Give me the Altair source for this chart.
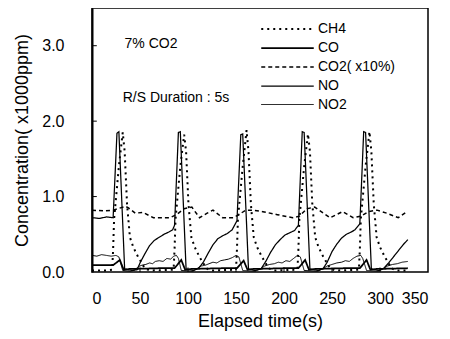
import altair as alt
import pandas as pd

FONT = "Liberation Sans"

series_names = ["CH4", "CO", "CO2( x10%)", "NO", "NO2"]

# CH4 (dotted)
ch4_t = [0, 15, 21, 22, 23, 28, 32, 34, 36.5, 39.5, 43, 48, 55, 60,
         85, 86, 87, 92, 96, 98, 100.5, 103.5, 107, 112, 119, 124,
         150, 151, 152, 157, 161, 163, 165.5, 168.5, 172, 177, 184, 189,
         214, 215, 216, 221, 225, 227, 229.5, 232.5, 236, 241, 248, 253,
         278, 279, 280, 285, 289, 291, 293.5, 296.5, 300, 305, 312, 317, 329]
ch4_v = [0.02, 0.02, 0.03, 0.3, 0.7, 1.4, 1.85, 1.6, 0.9, 0.46, 0.33, 0.2, 0.05, 0.02,
         0.03, 0.3, 0.7, 1.4, 1.82, 1.6, 0.9, 0.46, 0.33, 0.2, 0.05, 0.02,
         0.03, 0.3, 0.7, 1.4, 1.88, 1.6, 0.9, 0.46, 0.33, 0.2, 0.05, 0.02,
         0.03, 0.3, 0.7, 1.4, 1.83, 1.6, 0.9, 0.46, 0.33, 0.2, 0.05, 0.02,
         0.03, 0.3, 0.7, 1.4, 1.86, 1.6, 0.9, 0.46, 0.33, 0.2, 0.05, 0.02, 0.02]

# CO (thin solid)
co_t = [0, 20, 22, 29, 33, 39, 70, 86, 93, 97, 103, 135, 151, 158, 162, 168, 200,
        215, 222, 226, 232, 262, 279, 286, 290, 296, 329]
co_v = [0.09, 0.09, 0.09, 0.16, 0.03, 0.04, 0.05, 0.05, 0.16, 0.03, 0.04, 0.05, 0.05, 0.15, 0.03, 0.04, 0.05,
        0.05, 0.16, 0.03, 0.04, 0.05, 0.05, 0.16, 0.03, 0.04, 0.05]

# CO2 x10% (dashed)
co2_t = [0, 12, 22, 27, 35, 38, 45, 53, 64, 81, 88, 96, 104, 112, 120, 126, 136, 147,
         153, 160, 167, 178, 193, 209, 216, 224, 232, 241, 248, 261, 272, 280, 288, 297,
         307, 319, 328]
co2_v = [0.82, 0.81, 0.82, 0.84, 0.87, 0.85, 0.78, 0.79, 0.72, 0.72, 0.76, 0.84, 0.86, 0.72, 0.78, 0.82, 0.72, 0.72,
         0.76, 0.82, 0.82, 0.80, 0.76, 0.72, 0.74, 0.84, 0.86, 0.78, 0.72, 0.80, 0.72, 0.74, 0.80, 0.82,
         0.78, 0.72, 0.80]

# NO (spiking solid)
no_t = [0, 8, 15, 22, 26, 28, 34, 42, 47, 50, 55, 60, 65, 70, 75, 80, 84, 86,
        90, 92, 98, 106, 111, 116, 121, 126, 131, 136, 141, 146, 151,
        155, 157, 163, 170, 176, 181, 186, 191, 196, 201, 206, 211, 215,
        219, 221, 227, 236, 241, 245, 250, 255, 260, 265, 270, 274, 279,
        283, 285, 291, 299, 304, 309, 314, 319, 324, 329]
no_v = [0.72, 0.71, 0.73, 0.72, 1.84, 1.86, 0.04, 0.02, 0.03, 0.12, 0.24, 0.35, 0.42, 0.46, 0.50, 0.53, 0.56, 0.62,
        1.85, 1.86, 0.04, 0.02, 0.05, 0.13, 0.25, 0.36, 0.44, 0.48, 0.51, 0.56, 0.68,
        1.82, 1.83, 0.04, 0.02, 0.04, 0.14, 0.26, 0.36, 0.43, 0.49, 0.52, 0.55, 0.62,
        1.86, 1.85, 0.04, 0.02, 0.05, 0.13, 0.27, 0.37, 0.45, 0.50, 0.53, 0.56, 0.64,
        1.86, 1.85, 0.04, 0.02, 0.05, 0.12, 0.20, 0.28, 0.36, 0.43]

# NO2 (thick jagged solid)
no2_t = [0, 5, 10, 15, 20, 25, 28, 32, 40, 45, 48, 52, 56, 60, 63, 66, 70, 74, 78, 82, 85, 88, 90,
         93, 105, 110, 114, 118, 122, 126, 130, 134, 138, 142, 146, 150, 153,
         157, 170, 175, 180, 185, 190, 194, 198, 202, 206, 210, 214, 217,
         221, 235, 240, 245, 250, 255, 260, 264, 268, 272, 276, 280, 282,
         286, 298, 303, 308, 313, 318, 323, 329]
no2_v = [0.22, 0.21, 0.23, 0.22, 0.21, 0.22, 0.20, 0.02, 0.01, 0.03, 0.07, 0.09, 0.10, 0.12, 0.11, 0.14, 0.15, 0.14, 0.18, 0.17, 0.21, 0.22, 0.18,
         0.02, 0.01, 0.05, 0.08, 0.09, 0.11, 0.13, 0.12, 0.15, 0.16, 0.17, 0.19, 0.22, 0.20,
         0.02, 0.01, 0.04, 0.08, 0.10, 0.11, 0.13, 0.12, 0.15, 0.14, 0.18, 0.22, 0.20,
         0.02, 0.01, 0.04, 0.08, 0.10, 0.12, 0.13, 0.15, 0.14, 0.18, 0.21, 0.22, 0.18,
         0.02, 0.01, 0.04, 0.08, 0.10, 0.11, 0.13, 0.14]

x_ticks = [0, 50, 100, 150, 200, 250, 300, 350]
y_ticks = [0, 1, 2, 3]

ann_text = ["7% CO2", "R/S Duration : 5s"]
ann_x = [61.5, 87.5]
ann_y = [3.02, 2.31]

rows = []
for name, ts, vs in zip(series_names,
                        [ch4_t, co_t, co2_t, no_t, no2_t],
                        [ch4_v, co_v, co2_v, no_v, no2_v]):
    for i, (t, v) in enumerate(zip(ts, vs)):
        rows.append({"series": name, "t": t, "v": v, "order": i})
df = pd.DataFrame(rows)

dash_range = [[2, 4], [1, 0], [4, 3], [1, 0], [1, 0]]
width_range = [2, 1, 1, 2.2, 2.2]

leg = alt.Legend(title=None, orient="none", legendX=184, legendY=9.5,
                 symbolType="M-2.5,0L2.5,0", symbolSize=441, symbolStrokeColor="black",
                 symbolStrokeWidth=1.6,
                 labelFont=FONT, labelFontSize=14, labelColor="black",
                 rowPadding=-1, labelOffset=19, padding=0)

xscale = alt.Scale(domain=[0, 350], nice=False)
yscale = alt.Scale(domain=[0, 3.5], nice=False)

lines = alt.Chart(df).mark_line(interpolate="linear").encode(
    x=alt.X("t:Q", scale=xscale,
            axis=alt.Axis(values=x_ticks, title="Elapsed time(s)", format="d")),
    y=alt.Y("v:Q", scale=yscale,
            axis=alt.Axis(values=y_ticks, title="Concentration( x1000ppm)", format=".1f")),
    color=alt.Color("series:N", scale=alt.Scale(domain=series_names, range=["black"] * 5), legend=leg),
    strokeDash=alt.StrokeDash("series:N", scale=alt.Scale(domain=series_names, range=dash_range), legend=leg),
    strokeWidth=alt.StrokeWidth("series:N", scale=alt.Scale(domain=series_names, range=width_range), legend=leg),
    order="order:Q",
)

ann_df = pd.DataFrame({"x": ann_x, "y": ann_y, "text": ann_text})
ann = alt.Chart(ann_df).mark_text(font=FONT, fontSize=14, color="black", align="center", baseline="middle").encode(
    x=alt.X("x:Q", scale=xscale), y=alt.Y("y:Q", scale=yscale), text="text:N")

ytick_df = pd.DataFrame({"y": y_ticks[1:]})
yt = alt.Chart(ytick_df).mark_rule(color="black", strokeWidth=1).encode(
    y=alt.Y("y:Q", scale=yscale), x=alt.datum(0, scale=xscale), x2=alt.datum(5))

xtick_df = pd.DataFrame({"x": x_ticks[1:-1]})
xt = alt.Chart(xtick_df).mark_rule(color="black", strokeWidth=1).encode(
    x=alt.X("x:Q", scale=xscale), y=alt.datum(0, scale=yscale), y2=alt.datum(0.06))

chart = alt.layer(lines, ann, yt, xt).properties(
    width=336, height=264,
    autosize=alt.AutoSizeParams(type="none"),
    padding={"left": 84, "top": 0, "right": 14, "bottom": 60},
).configure_view(
    stroke="black", strokeWidth=1.5
).configure_axis(
    grid=False, ticks=False, domain=False,
    labelFont=FONT, labelColor="black",
    titleFont=FONT, titleFontWeight="normal", titleColor="black", titleFontSize=18,
).configure_axisY(
    labelFontSize=16, labelPadding=28, titlePadding=10, domain=True, domainColor="black", domainWidth=2,
).configure_axisX(
    labelFontSize=16, labelPadding=18, titlePadding=6,
)

chart.save("out.html", embed_options={"renderer": "svg", "actions": False})
